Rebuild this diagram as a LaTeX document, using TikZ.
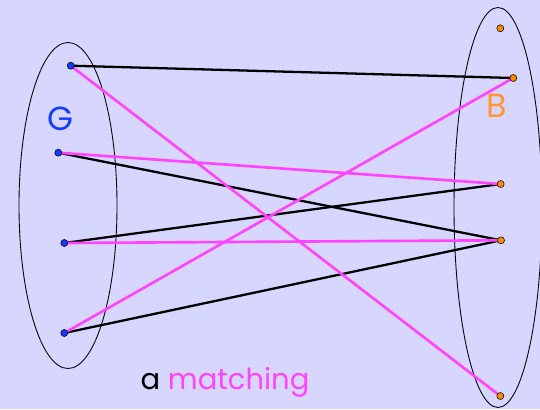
\documentclass[tikz,border=0pt]{standalone}
\usepackage{fontspec}
\setmainfont{Poppins}
\usepackage{tikz}
\usetikzlibrary{arrows.meta,calc,positioning}

\definecolor{lavender}{RGB}{214,214,255}
\definecolor{pinkedge}{RGB}{255,68,255}
\definecolor{gdotcol}{RGB}{20,60,255}
\definecolor{bdotcol}{RGB}{255,136,0}
\definecolor{blabel}{RGB}{255,150,50}

\pgfdeclarelayer{bg}
\pgfdeclarelayer{edges}
\pgfsetlayers{bg,edges,main}

\tikzset{
  gdot/.style={circle,draw=black,line width=0.3pt,fill=gdotcol,inner sep=0pt,minimum size=4pt},
  bdot/.style={circle,draw=black,line width=0.3pt,fill=bdotcol,inner sep=0pt,minimum size=4pt},
  plainedge/.style={black,line width=1.3pt},
  matchedge/.style={pinkedge,line width=1.5pt},
  side/.style={draw=black,line width=0.5pt}
}

\begin{document}
\begin{tikzpicture}[x={(0.02cm,0)},y={(0,-0.02cm)},line join=round]
\begin{pgfonlayer}{bg}
\fill[lavender] (0,0) rectangle (540,409);
\useasboundingbox (0,0) rectangle (540,409);
% the two sides
\draw[side] (68,205.5) ellipse [x radius=49,y radius=163];
\draw[side] (498,207.5) ellipse [x radius=44,y radius=200];
\end{pgfonlayer}
% vertices of G
\node[gdot] (g1) at (70.7,65.7) {};
\node[gdot] (g2) at (58.3,152.7) {};
\node[gdot] (g3) at (64.3,243) {};
\node[gdot] (g4) at (64.3,333) {};
% vertices of B
\node[bdot] (b1) at (500.3,28.3) {};
\node[bdot] (b2) at (513.3,78) {};
\node[bdot] (b3) at (500.7,184) {};
\node[bdot] (b4) at (501,240.3) {};
\node[bdot] (b5) at (500.3,396) {};
% edges, matched ones in pink
\begin{pgfonlayer}{edges}
\draw[plainedge] (g1.center) -- (b2.center);
\draw[plainedge] (g2.center) -- (b4.center);
\draw[plainedge] (g3.center) -- (b3.center);
\draw[plainedge] (g4.center) -- (b4.center);
\draw[matchedge] (g1.center) -- (b5.center);
\draw[matchedge] (g2.center) -- (b3.center);
\draw[matchedge] (g3.center) -- (b4.center);
\draw[matchedge] (g4.center) -- (b2.center);
\end{pgfonlayer}
% labels
\node[text=gdotcol,font=\fontsize{19}{22}\selectfont] (glabel) at (60,119) {G};
\node[text=blabel,font=\fontsize{19}{22}\selectfont] (blab) at (497,106) {B};
\node[font=\fontsize{16.5}{20}\selectfont] (caption) at (225,382) {a \textcolor{pinkedge}{matching}};
\end{tikzpicture}
\end{document}
